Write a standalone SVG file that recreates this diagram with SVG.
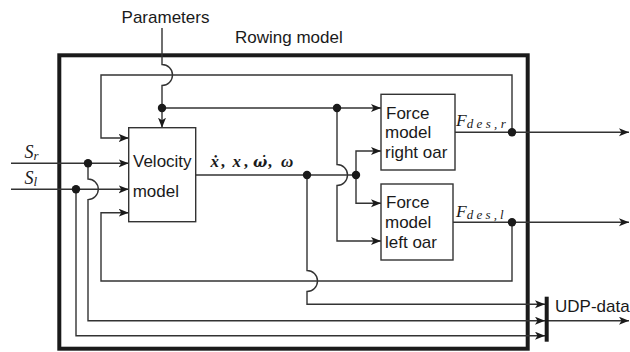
<svg xmlns="http://www.w3.org/2000/svg" width="630" height="352" viewBox="0 0 630 352">
<style>
.ln{fill:none;stroke:#333;stroke-width:1.4}
.box{fill:#fff;stroke:#333;stroke-width:1.4}
.lbl{font-family:"Liberation Sans",Arial,sans-serif;font-size:17px;fill:#1a1a1a}
.math{font-family:"Liberation Serif","Times New Roman",serif;font-style:italic;fill:#1a1a1a}
.dot{fill:#1a1a1a}
</style>
<defs>
<marker id="arr" markerUnits="userSpaceOnUse" markerWidth="12" markerHeight="10" refX="10" refY="4" orient="auto" viewBox="0 0 12 10">
<path d="M0,0 L10,4 L0,8 L2.5,4 z" fill="#1a1a1a"/>
</marker>
</defs>

<g id="rowing-model">
<rect x="59.3" y="55.3" width="468.4" height="293.4" fill="none" stroke="#1a1a1a" stroke-width="4"/>
<text class="lbl" x="235" y="43.3">Rowing model</text>
</g>

<g id="parameters-label">
<text class="lbl" x="165.5" y="22.7" text-anchor="middle">Parameters</text>
</g>

<g id="inputs">
<text class="math" x="24.5" y="158.3" font-size="18">S<tspan font-size="13" dy="2">r</tspan></text>
<text class="math" x="24.5" y="184.3" font-size="18">S<tspan font-size="13" dy="2">l</tspan></text>
</g>

<g id="connectors">
<path class="ln" d="M162,28 V64.5 A10.5,10.5 0 0 1 162,85.5 V127.7" marker-end="url(#arr)"/>
<path class="ln" d="M512,132.3 V75 H101 V138 H128.7" marker-end="url(#arr)"/>
<path class="ln" d="M162,108 H381" marker-end="url(#arr)"/>
<path class="ln" d="M337,108 V164.5 A10.5,10.5 0 0 1 337,185.5 V241 H381" marker-end="url(#arr)"/>
<path class="ln" d="M11,163.3 H128.7" marker-end="url(#arr)"/>
<path class="ln" d="M88,163.3 V179 A10.3,10.3 0 0 1 88,199.6 V320.7 H545" marker-end="url(#arr)"/>
<path class="ln" d="M11,189.3 H128.7" marker-end="url(#arr)"/>
<path class="ln" d="M76,189.3 V335.7 H545" marker-end="url(#arr)"/>
<path class="ln" d="M196,175 H356"/>
<path class="ln" d="M356,175 V151 H381" marker-end="url(#arr)"/>
<path class="ln" d="M356,175 V203.3 H381" marker-end="url(#arr)"/>
<path class="ln" d="M307,175 V270.5 A10.5,10.5 0 0 1 307,291.5 V304.3 H545" marker-end="url(#arr)"/>
<path class="ln" d="M455,132.3 H629" marker-end="url(#arr)"/>
<path class="ln" d="M453,222.3 H629" marker-end="url(#arr)"/>
<path class="ln" d="M512,222.3 V281 H101 V212.7 H128.7" marker-end="url(#arr)"/>
<path class="ln" d="M548,320.7 H629" marker-end="url(#arr)"/>
<circle class="dot" cx="162" cy="108" r="4.2"/>
<circle class="dot" cx="337" cy="108" r="4.2"/>
<circle class="dot" cx="88" cy="163.3" r="4.2"/>
<circle class="dot" cx="76" cy="189.3" r="4.2"/>
<circle class="dot" cx="307" cy="175" r="4.2"/>
<circle class="dot" cx="356" cy="175" r="4.2"/>
<circle class="dot" cx="512" cy="132.3" r="4.2"/>
<circle class="dot" cx="512" cy="222.3" r="4.2"/>
</g>

<g id="velocity-model">
<rect class="box" x="128.7" y="127.7" width="67" height="94"/>
<text class="lbl" x="133" y="166.7">Velocity</text>
<text class="lbl" x="132.7" y="196.7">model</text>
</g>

<g id="state-label">
<text class="math" font-weight="bold" font-size="17" y="166.7"><tspan x="210.5">ẋ</tspan><tspan x="221.5">,</tspan><tspan x="232.5">x</tspan><tspan x="244.5">,</tspan><tspan x="253" font-family="DejaVu Serif" font-size="15">ω̇</tspan><tspan x="268.5">,</tspan><tspan x="281">ω</tspan></text>
</g>

<g id="force-right">
<rect class="box" x="381" y="94.3" width="74" height="75.7"/>
<text class="lbl" x="386" y="119">Force</text>
<text class="lbl" x="385" y="138.3">model</text>
<text class="lbl" x="385" y="158.3">right oar</text>
<text class="math" x="456" y="126" font-size="17.5">F<tspan font-size="13" dy="2" textLength="39" lengthAdjust="spacing">des,r</tspan></text>
</g>

<g id="force-left">
<rect class="box" x="381" y="184" width="72" height="76"/>
<text class="lbl" x="386" y="208.3">Force</text>
<text class="lbl" x="385" y="228.3">model</text>
<text class="lbl" x="385" y="248.3">left oar</text>
<text class="math" x="456" y="216.5" font-size="17.5">F<tspan font-size="13" dy="2" textLength="37" lengthAdjust="spacing">des,l</tspan></text>
</g>

<g id="udp-data">
<rect x="544.7" y="296.7" width="4" height="45" fill="#1a1a1a"/>
<text class="lbl" x="555" y="311.7">UDP-data</text>
</g>
</svg>
